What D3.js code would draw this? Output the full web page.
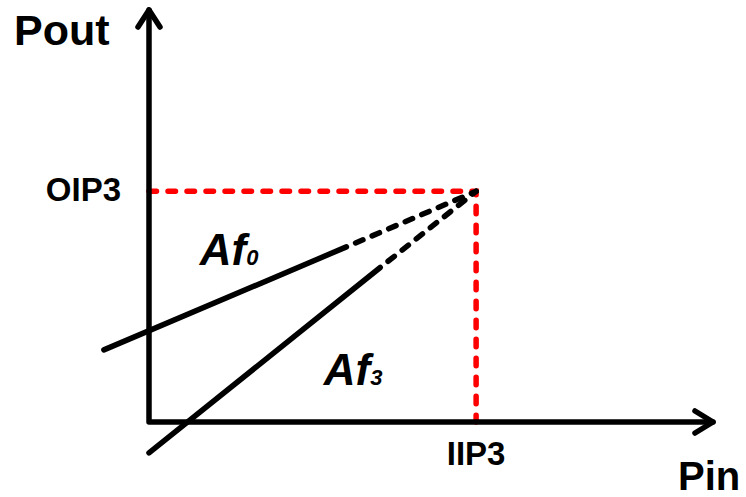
<!DOCTYPE html>
<html>
<head>
<meta charset="utf-8">
<script src="https://cdn.jsdelivr.net/npm/d3@7"></script>
<style>
  html, body { margin: 0; padding: 0; background: #fff; }
  svg { display: block; }
  text { font-family: "Liberation Sans", Arial, sans-serif; font-weight: bold; fill: #000; }
</style>
</head>
<body>
<svg id="chart" width="746" height="497"></svg>
<script>
// ---- data (abstract units) ----
const axisLabels = ["Pin", "Pout"];
const iip3 = 58;          // x of intercept point
const oip3 = 56;          // y of intercept point
const af0Solid = [[-8, 17.5], [35, 42.5]];
const af0Dashed = [[35, 42.5], [58, 56]];
const af3Solid = [[0, -7.5], [41, 37.5]];
const af3Dashed = [[41, 37.5], [58, 56]];
const pointLabels = ["IIP3", "OIP3"];
const curveLabels = [{ base: "Af", sub: "0", at: [9, 38] }, { base: "Af", sub: "3", at: [31, 9] }];

// ---- layout ----
const W = 746, H = 497;
const svg = d3.select("#chart");
const x = d3.scaleLinear().domain([0, 100]).range([149, 713]);
const y = d3.scaleLinear().domain([0, 100]).range([422, 10]);
const line = d3.line().x(d => x(d[0])).y(d => y(d[1]));

// red guide lines
const red = "#ff0000";
svg.append("path")
  .attr("d", line([[0, oip3], [iip3, oip3], [iip3, 0]]))
  .attr("fill", "none").attr("stroke", red).attr("stroke-width", 5.5)
  .attr("stroke-dasharray", "7.5,11.5").attr("stroke-linecap", "round");

// axes
const axisG = svg.append("g").attr("stroke", "#000").attr("stroke-width", 5.5)
  .attr("fill", "none").attr("stroke-linecap", "round").attr("stroke-linejoin", "round");
axisG.append("path").attr("d", line([[0, 100], [0, 0], [100, 0]]));
// arrowheads
axisG.append("path").attr("d", `M${x(0) - 11},${y(100) + 17} L${x(0)},${y(100)} L${x(0) + 11},${y(100) + 17}`);
axisG.append("path").attr("d", `M${x(100) - 18},${y(0) - 11} L${x(100)},${y(0)} L${x(100) - 18},${y(0) + 11}`);

// curves
const curveG = svg.append("g").attr("stroke", "#000").attr("stroke-width", 5.5)
  .attr("fill", "none").attr("stroke-linecap", "round");
[af0Solid, af3Solid].forEach(s => curveG.append("path").attr("d", line(s)));
[af0Dashed, af3Dashed].forEach(s => curveG.append("path").attr("d", line(s))
  .attr("stroke-dasharray", "8,10").attr("stroke-dashoffset", -10));

// axis titles
svg.append("text").attr("x", 14).attr("y", 45).attr("font-size", 43).text(axisLabels[1]);
svg.append("text").attr("x", 678).attr("y", 490).attr("font-size", 40).text(axisLabels[0]);

// point labels
svg.append("text").attr("x", x(iip3)).attr("y", 465).attr("text-anchor", "middle")
  .attr("font-size", 33).text(pointLabels[0]);
svg.append("text").attr("x", 121).attr("y", y(oip3) + 10).attr("text-anchor", "end")
  .attr("font-size", 33).text(pointLabels[1]);

// curve labels
curveLabels.forEach(c => {
  const t = svg.append("text").attr("x", x(c.at[0])).attr("y", y(c.at[1]))
    .attr("font-size", 44).attr("font-style", "italic");
  t.append("tspan").text(c.base);
  t.append("tspan").attr("font-size", 22).attr("dx", 0).text(c.sub);
});
</script>
</body>
</html>
